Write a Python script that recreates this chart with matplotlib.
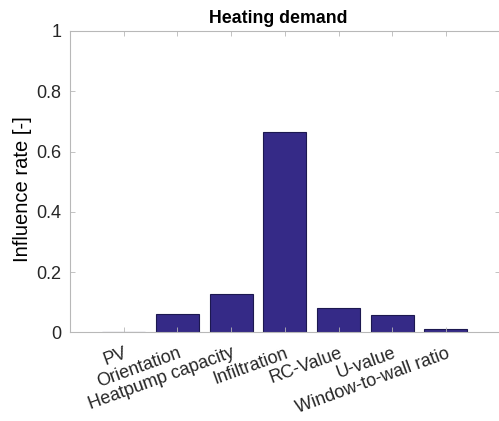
import matplotlib
matplotlib.use('Agg')
import matplotlib.pyplot as plt
import numpy as np

plt.rcParams['font.family'] = ['Liberation Sans', 'DejaVu Sans']

# Influence rates
categories = ['PV', 'Orientation', 'Heatpump capacity', 'Infiltration',
              'RC-Value', 'U-value', 'Window-to-wall ratio']
influence = [0.001, 0.060, 0.126, 0.666, 0.082, 0.057, 0.012]

bar_color = '#352A87'
axis_gray = '#b8b8b8'
text_color = '#262626'

fig = plt.figure(figsize=(4.99, 4.21), dpi=100)
ax = fig.add_axes([0.1403, 0.2107, 0.861, 0.7157])

x = np.arange(1, len(categories) + 1)
ax.bar(x, influence, width=0.8, color=bar_color, edgecolor='#1c1850', linewidth=0.8)

ax.set_xlim(0, 8)
ax.set_ylim(0, 1)
ax.set_yticks([0, 0.2, 0.4, 0.6, 0.8, 1])
ax.set_yticklabels(['0', '0.2', '0.4', '0.6', '0.8', '1'])
ax.set_xticks(x)
ax.set_xticklabels(categories, rotation=20, ha='right', rotation_mode='anchor')

ax.tick_params(direction='in', top=True, right=True, length=3.5, width=0.6,
               color=axis_gray, labelcolor=text_color, labelsize=13)
ax.tick_params(axis='x', pad=9)
ax.tick_params(axis='y', pad=6)
for s in ax.spines.values():
    s.set_color(axis_gray)
    s.set_linewidth(0.8)

ax.set_ylabel('Influence rate [-]', fontsize=14.5, color='black')
ax.yaxis.set_label_coords(-0.088, 0.474)
ax.set_title('Heating demand', fontsize=12.8, fontweight='bold', pad=6, x=0.484)

fig.savefig('out.png', dpi=100)
